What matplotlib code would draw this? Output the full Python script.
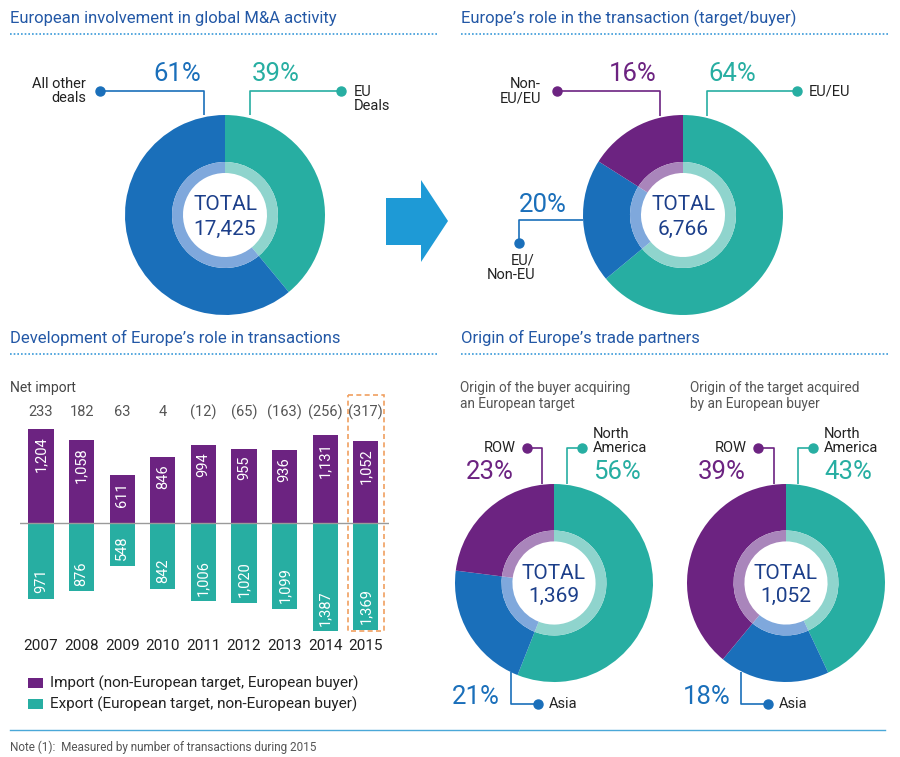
import matplotlib
matplotlib.use('Agg')
import matplotlib.pyplot as plt
from matplotlib import transforms
from matplotlib.patches import Rectangle, Polygon

# ---- data ----
global_labels = ['EU Deals', 'All other deals']
global_share = [39, 61]
global_total = 17425

role_labels = ['EU/EU', 'EU/Non-EU', 'Non-EU/EU']
role_share = [64, 20, 16]
role_total = 6766

years = ['2007', '2008', '2009', '2010', '2011', '2012', '2013', '2014', '2015']
imports = [1204, 1058, 611, 846, 994, 955, 936, 1131, 1052]
exports = [971, 876, 548, 842, 1006, 1020, 1099, 1387, 1369]

origin_labels = ['North America', 'Asia', 'ROW']
buyer_share = [56, 21, 23]
buyer_total = 1369
target_share = [43, 18, 39]
target_total = 1052

# ---- style ----
FONT = ['Roboto', 'DejaVu Sans']
plt.rcParams['font.family'] = FONT
TEAL = '#27aea2'
BLUE = '#1a6fba'
PURPLE = '#6c2381'
TEAL_L = '#8fd4cd'
BLUE_L = '#7fa8dc'
PURPLE_L = '#a985bb'
TITLE = '#2358a6'
NAVY = '#1c3f8a'
DOTS = '#3a9ad9'
TXT = '#222222'

W, H = 900, 757
fig = plt.figure(figsize=(9, 7.57), dpi=100)
over = fig.add_axes([0, 0, 1, 1])
over.set_xlim(0, W)
over.set_ylim(H, 0)
over.axis('off')


def box(x0, y0, x1, y1):
    return fig.add_axes([x0 / W, 1 - y1 / H, (x1 - x0) / W, (y1 - y0) / H])


def section(x, y, title, x1):
    over.text(x, y, title, color=TITLE, fontsize=12, va='center', ha='left')
    over.plot([x, x1], [y + 16, y + 16], color=DOTS, lw=1.2, ls=(0, (1, 1.2)))


def donut(cx, cy, values, colors, lights, total, R=100):
    ax = box(cx - R, cy - R, cx + R, cy + R)
    ax.pie(values, colors=colors, radius=1, startangle=90, counterclock=False,
           wedgeprops=dict(width=0.47, linewidth=0))
    ax.pie(values, colors=lights, radius=0.53, startangle=90, counterclock=False,
           wedgeprops=dict(width=0.11, linewidth=0))
    ax.set_xlim(-1, 1)
    ax.set_ylim(-1, 1)
    ax.set_aspect('equal')
    ax.axis('off')
    ax.text(0, 0.10, 'TOTAL', ha='center', va='center', color=NAVY, fontsize=15)
    ax.text(0, -0.14, f'{total:,}', ha='center', va='center', color=NAVY, fontsize=15)
    return ax


def leader(xs, ys, color):
    over.plot(xs, ys, color=color, lw=1.2, solid_capstyle='butt')
    over.plot(xs[0], ys[0], 'o', color=color, ms=6.5)


def pct(x, y, v, color, ha='center'):
    over.text(x, y, f'{v}%', color=color, fontsize=18.5, ha=ha, va='center')


def lab(x, y, s, ha='left', va='center'):
    over.text(x, y, s, color=TXT, fontsize=10.5, ha=ha, va=va, linespacing=1.05)


# ---- top left: global M&A ----
section(10, 18, 'European involvement in global M&A activity', 437)
donut(225, 215, global_share, [TEAL, BLUE], [TEAL_L, BLUE_L], global_total)
leader([100, 204, 204], [91, 91, 115], BLUE)
leader([341, 250, 250], [91, 91, 115], TEAL)
pct(177, 74, global_share[1], BLUE)
pct(276, 74, global_share[0], TEAL)
lab(86, 91, 'All other\ndeals', ha='right')
lab(354, 99, 'EU\nDeals')

# arrow
over.add_patch(Polygon([(386, 198), (421, 198), (421, 180), (448, 221),
                        (421, 262), (421, 245), (386, 245)],
                       closed=True, color='#1e9ad6', lw=0))

# ---- top right: role in transaction ----
section(461, 18, 'Europe\u2019s role in the transaction (target/buyer)', 888)
donut(683, 215, role_share, [TEAL, BLUE, PURPLE], [TEAL_L, BLUE_L, PURPLE_L], role_total)
leader([557, 660, 660], [91, 91, 116], PURPLE)
leader([797, 707, 707], [91, 91, 116], TEAL)
leader([519, 519, 583], [243, 220, 220], BLUE)
pct(633, 74, role_share[2], PURPLE)
pct(732, 74, role_share[0], TEAL)
pct(543, 205, role_share[1], BLUE)
lab(541, 91, 'Non-\nEU/EU', ha='right')
lab(809, 92, 'EU/EU')
lab(535, 268, 'EU/\nNon-EU', ha='right')

# ---- bottom left: bars ----
section(10, 338, 'Development of Europe\u2019s role in transactions', 437)
over.text(10, 388, 'Net import', color='#444444', fontsize=10, va='center')

bx = box(20, 395, 389, 640)
xs = list(range(len(years)))
bx.bar(xs, imports, width=0.62, color=PURPLE, linewidth=0)
bx.bar(xs, [-e for e in exports], width=0.62, color=TEAL, linewidth=0)
bx.axhline(0, color='#9a9a9a', lw=1)
bx.set_xlim(-0.517, 8.571)
bx.set_ylim(-1500, 1641)
bx.axis('off')
mix = transforms.blended_transform_factory(bx.transData, over.transData)
for i in xs:
    net = imports[i] - exports[i]
    nl = f'{net:,}' if net >= 0 else f'({-net:,})'
    bx.text(i, 412, nl, transform=mix, ha='center', va='center', color='#555555', fontsize=10.5)
    bx.text(i, 646, years[i], transform=mix, ha='center', va='center', color=TXT, fontsize=11)
    bx.annotate(f'{imports[i]:,}', (i, imports[i]), xytext=(0, -5), textcoords='offset points',
                rotation=90, ha='center', va='top', color='white', fontsize=10.5)
    bx.annotate(f'{exports[i]:,}', (i, -exports[i]), xytext=(0, 4), textcoords='offset points',
                rotation=90, ha='center', va='bottom', color='white', fontsize=10.5)
bx.add_patch(Rectangle((8 - 0.44, 395), 0.88, 236, transform=mix, fill=False,
                       ec='#f0a060', lw=1.2, ls=(0, (3, 2)), clip_on=False))

# legend
for y, c, s in [(683, PURPLE, 'Import (non-European target, European buyer)'),
                (704, TEAL, 'Export (European target, non-European buyer)')]:
    over.add_patch(Rectangle((28, y - 5), 15, 10, color=c, lw=0))
    over.text(50, y, s, color=TXT, fontsize=11, va='center')

# ---- bottom right: origin donuts ----
section(461, 338, 'Origin of Europe\u2019s trade partners', 888)
over.text(460, 396, 'Origin of the buyer acquiring\nan European target', color='#555555',
          fontsize=9.8, va='center', linespacing=1.25)
over.text(690, 396, 'Origin of the target acquired\nby an European buyer', color='#555555',
          fontsize=9.8, va='center', linespacing=1.25)

cols = [TEAL, BLUE, PURPLE]
lights = [TEAL_L, BLUE_L, PURPLE_L]
for cx, share, total, row_x, row_line, na_dot, na_line, asia_line, asia_dot, pct_row, pct_asia in [
        (554, buyer_share, buyer_total, 527, 542, 582, 567, 511, 538, 490, 476),
        (786, target_share, target_total, 758, 774, 813, 798, 741, 768, 722, 707)]:
    donut(cx, 583, share, cols, lights, total, R=99)
    leader([row_x, row_line, row_line], [448, 448, 484], PURPLE)
    leader([na_dot, na_line, na_line], [448, 448, 484], TEAL)
    leader([asia_dot, asia_line, asia_line], [704, 704, 672], BLUE)
    lab(row_x - 11, 448, 'ROW', ha='right')
    lab(na_dot + 11, 441, 'North\nAmerica')
    lab(asia_dot + 11, 704, 'Asia')
    pct(pct_row, 472, share[2], PURPLE)
    pct(na_dot + 11, 472, share[0], TEAL, ha='left')
    pct(pct_asia, 697, share[1], BLUE)

# ---- footer ----
over.plot([10, 885], [730, 730], color='#4aa8d8', lw=1)
over.text(10, 747, 'Note (1):  Measured by number of transactions during 2015', color='#555555',
          fontsize=8.5, va='center')

fig.savefig('out.png', dpi=100)
